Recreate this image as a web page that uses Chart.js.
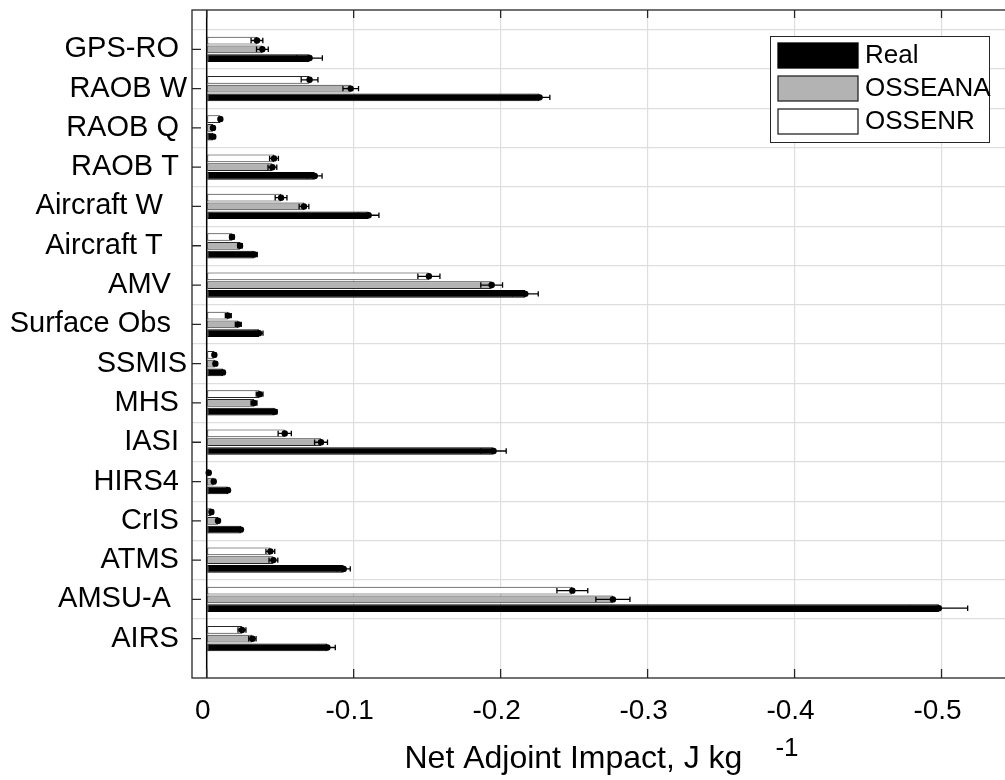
<!DOCTYPE html>
<html>
<head>
<meta charset="utf-8">
<style>
    html, body { margin: 0; padding: 0; background: #fff; overflow: hidden; }
    canvas { display: block; }
</style>
<script src="https://cdn.jsdelivr.net/npm/chart.js@4/dist/chart.umd.min.js"></script>
</head>
<body>
<canvas id="myChart" width="1040" height="780"></canvas>
<script>
    // Observation types, top to bottom
    var categories = ['GPS-RO ', 'RAOB W', 'RAOB Q ', 'RAOB T ', 'Aircraft W   ', 'Aircraft T   ', 'AMV  ',
        'Surface Obs  ', 'SSMIS', 'MHS ', 'IASI ', 'HIRS4 ', 'CrIS ', 'ATMS ', 'AMSU-A  ', 'AIRS '];

    // Net adjoint impact (J/kg) and error half-widths for each experiment
    var realImpact = [-0.070, -0.2265, -0.0045, -0.0735, -0.1102, -0.0324, -0.2168, -0.0356,
        -0.0111, -0.0463, -0.1952, -0.0145, -0.0233, -0.0932, -0.4982, -0.0821];
    var realErr = [0.0087, 0.007, 0.001, 0.005, 0.007, 0.002, 0.0088, 0.0027,
        0.001, 0.0015, 0.0086, 0.001, 0.001, 0.0045, 0.0196, 0.0054];

    var anaImpact = [-0.0379, -0.098, -0.0043, -0.0447, -0.0662, -0.0227, -0.1939, -0.0215,
        -0.0059, -0.0322, -0.0778, -0.0048, -0.0077, -0.0454, -0.2764, -0.0311];
    var anaErr = [0.004, 0.0053, 0.001, 0.003, 0.0033, 0.0015, 0.0074, 0.002,
        0.001, 0.002, 0.0044, 0.001, 0.001, 0.003, 0.0116, 0.0025];

    var nrImpact = [-0.0342, -0.070, -0.0093, -0.0458, -0.0506, -0.0172, -0.1512, -0.0147,
        -0.0052, -0.036, -0.0531, -0.0014, -0.0032, -0.0433, -0.2488, -0.024];
    var nrErr = [0.004, 0.0057, 0.001, 0.003, 0.004, 0.0015, 0.0075, 0.002,
        0.001, 0.0023, 0.0045, 0.001, 0.001, 0.003, 0.0105, 0.0027];

    var xTicks = [0, -0.1, -0.2, -0.3, -0.4, -0.5];
    var xTickLabels = ['0', '-0.1', '-0.2', '-0.3', '-0.4', '-0.5'];
    var xTitle = 'Net Adjoint Impact, J kg';
    var xTitleSup = '-1';

    var FONT = "'Liberation Sans', Arial, Helvetica, sans-serif";
    var AXIS = '#262626';
    var GRID = '#dedede';

    // empty slot above and below so the groups sit one step in from the box
    function pad(arr) { return [null].concat(arr, [null]); }
    var labels = [''].concat(categories, ['']);

    function bar(label, values, errs, fill, edge) {
        return {
            label: label,
            data: pad(values),
            errors: pad(errs),
            backgroundColor: fill,
            borderColor: edge,
            borderWidth: 1,
            borderSkipped: false,
            categoryPercentage: 0.67,
            barPercentage: 0.88
        };
    }

    // boxed axes with inward ticks, zero baseline, error bars, legend, x title
    var matlabish = {
        id: 'matlabish',
        afterDatasetsDraw: function(chart) {
            var ctx = chart.ctx, xs = chart.scales.x, ys = chart.scales.y, a = chart.chartArea;
            ctx.save();

            // baseline at zero
            var x0 = xs.getPixelForValue(0);
            ctx.strokeStyle = '#000';
            ctx.lineWidth = 1.5;
            ctx.beginPath();
            ctx.moveTo(x0, a.top); ctx.lineTo(x0, a.bottom);
            ctx.stroke();

            // error bars
            chart.data.datasets.forEach(function(ds, i) {
                var meta = chart.getDatasetMeta(i);
                meta.data.forEach(function(el, j) {
                    var v = ds.data[j], e = ds.errors[j];
                    if (v === null) return;
                    var xa = xs.getPixelForValue(v - e), xb = xs.getPixelForValue(v + e);
                    var xc = xs.getPixelForValue(v), y = el.y;
                    ctx.strokeStyle = '#000';
                    ctx.lineWidth = 1.3;
                    ctx.beginPath();
                    ctx.moveTo(xa, y); ctx.lineTo(xb, y);
                    ctx.moveTo(xa, y - 2.7); ctx.lineTo(xa, y + 2.7);
                    ctx.moveTo(xb, y - 2.7); ctx.lineTo(xb, y + 2.7);
                    ctx.stroke();
                    ctx.fillStyle = '#000';
                    ctx.beginPath();
                    ctx.arc(xc, y, 3.2, 0, Math.PI * 2);
                    ctx.fill();
                });
            });

            // axes box (right edge falls outside the page)
            ctx.strokeStyle = AXIS;
            ctx.lineWidth = 1.3;
            ctx.strokeRect(a.left, a.top, a.right - a.left, a.bottom - a.top);

            // inward ticks
            ctx.beginPath();
            for (var k = 1; k <= categories.length; k++) {
                var yp = ys.getPixelForValue(k);
                ctx.moveTo(a.left, yp); ctx.lineTo(a.left + 9, yp);
            }
            xTicks.forEach(function(t) {
                var xp = xs.getPixelForValue(t);
                ctx.moveTo(xp, a.bottom); ctx.lineTo(xp, a.bottom - 9);
                ctx.moveTo(xp, a.top); ctx.lineTo(xp, a.top + 8);
            });
            ctx.stroke();
            ctx.restore();
        },
        afterDraw: function(chart) {
            var ctx = chart.ctx, a = chart.chartArea;
            ctx.save();

            // legend, listed in reverse dataset order
            var lx = a.right - 26 - 219, ly = a.top + 26;
            ctx.fillStyle = '#fff';
            ctx.fillRect(lx, ly, 219, 106);
            ctx.strokeStyle = AXIS;
            ctx.lineWidth = 1;
            ctx.strokeRect(lx + 0.5, ly + 0.5, 219, 106);
            var items = chart.data.datasets.slice().reverse();
            ctx.font = '26px ' + FONT;
            ctx.textBaseline = 'middle';
            ctx.textAlign = 'left';
            items.forEach(function(ds, i) {
                var sy = ly + 7 + i * 33;
                ctx.fillStyle = ds.backgroundColor;
                ctx.fillRect(lx + 8, sy, 80, 25);
                ctx.strokeStyle = ds.borderColor;
                ctx.lineWidth = 1.3;
                ctx.strokeRect(lx + 8, sy, 80, 25);
                ctx.fillStyle = '#000';
                ctx.fillText(ds.label, lx + 95, sy + 13);
            });

            // x axis title with superscript unit
            ctx.font = '32px ' + FONT;
            ctx.textBaseline = 'alphabetic';
            var mainW = ctx.measureText(xTitle).width;
            ctx.font = '26px ' + FONT;
            var supW = ctx.measureText(xTitleSup).width;
            var gap = 33;
            var start = (a.left + a.right) / 2 - 2 - (mainW + gap + supW) / 2;
            ctx.fillStyle = '#000';
            ctx.font = '32px ' + FONT;
            ctx.fillText(xTitle, start, 768);
            ctx.font = '26px ' + FONT;
            ctx.fillText(xTitleSup, start + mainW + gap, 756);
            ctx.restore();
        }
    };

    Chart.defaults.font.family = FONT;
    Chart.defaults.color = '#000';

    new Chart(document.getElementById('myChart').getContext('2d'), {
        type: 'bar',
        data: {
            labels: labels,
            datasets: [
                bar('OSSENR', nrImpact, nrErr, '#ffffff', AXIS),
                bar('OSSEANA', anaImpact, anaErr, '#b3b3b3', AXIS),
                bar('Real', realImpact, realErr, '#000000', '#000000')
            ]
        },
        options: {
            indexAxis: 'y',
            responsive: false,
            animation: false,
            layout: { padding: { top: 10, right: 25, left: 0, bottom: 0 } },
            plugins: { legend: { display: false }, tooltip: { enabled: false } },
            scales: {
                x: {
                    type: 'linear',
                    reverse: true,
                    min: -0.55,
                    max: 0.01,
                    afterBuildTicks: function(scale) {
                        scale.ticks = xTicks.map(function(v) { return { value: v }; });
                    },
                    ticks: {
                        autoSkip: false,
                        maxRotation: 0,
                        padding: 16,
                        labelOffset: -4,
                        font: { size: 28 },
                        callback: function(v, i) { return xTickLabels[i]; }
                    },
                    grid: {
                        drawTicks: false,
                        lineWidth: 1.2,
                        color: function(c) {
                            return c.tick && c.tick.value === 0 ? 'rgba(0,0,0,0)' : GRID;
                        }
                    },
                    border: { display: false },
                    afterFit: function(scale) {
                        scale.height = 102;
                        scale.paddingLeft = 0;
                        scale.paddingRight = 0;
                    }
                },
                y: {
                    type: 'category',
                    offset: false,
                    ticks: {
                        autoSkip: false,
                        padding: 5,
                        font: { size: 29 }
                    },
                    grid: {
                        drawTicks: false,
                        lineWidth: 1.2,
                        color: function(c) {
                            return (c.index === 0 || c.index === labels.length - 1) ? 'rgba(0,0,0,0)' : GRID;
                        }
                    },
                    border: { display: false },
                    afterFit: function(scale) {
                        scale.width = 192;
                        scale.paddingTop = 0;
                        scale.paddingBottom = 0;
                    }
                }
            }
        },
        plugins: [matlabish]
    });
</script>
</body>
</html>
